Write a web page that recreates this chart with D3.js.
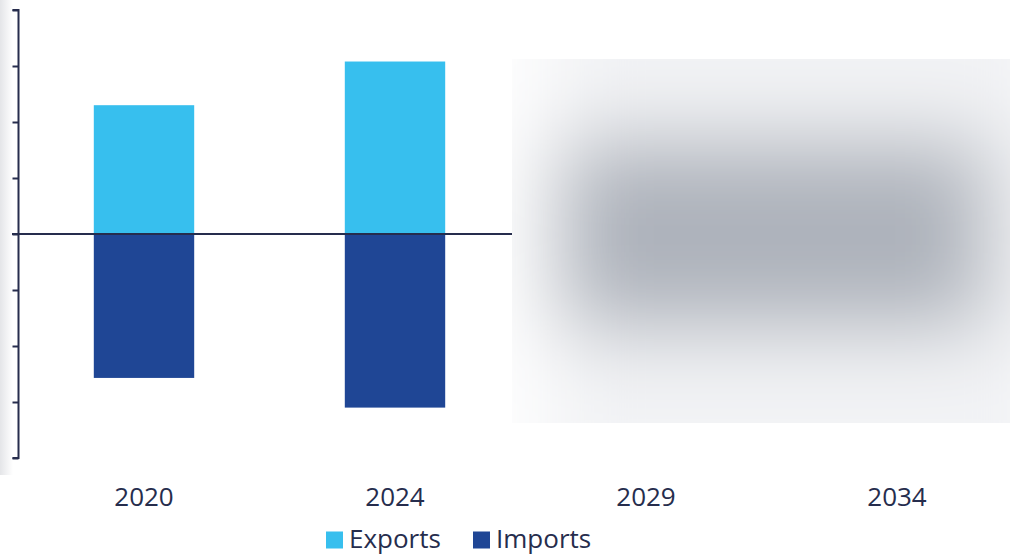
<!DOCTYPE html>
<html>
<head>
<meta charset="utf-8">
<script src="https://cdn.jsdelivr.net/npm/d3@7"></script>
<style>
  html, body { margin: 0; padding: 0; background: #fff; }
  svg { display: block; font-family: "Open Sans", "Noto Sans", sans-serif; }
</style>
</head>
<body>
<svg id="chart" width="1010" height="555"></svg>
<script>
// Chart data
const years = ["2020", "2024", "2029", "2034"];
const exportsVals = [2.3, 3.08, null, null];
const importsVals = [-2.57, -3.1, null, null];
const yTicks = [-4, -3, -2, -1, 0, 1, 2, 3, 4];
const legendLabels = ["Exports", "Imports"];

const colors = { Exports: "#37bfee", Imports: "#1f4695" };
const ink = "#262d4d";

const svg = d3.select("#chart");
const axisX = 18.5;

const x = d3.scaleBand().domain(years).range([axisX, 1022.5])
  .paddingInner(0.6).paddingOuter(0.3);
const y = d3.scaleLinear().domain([-4, 4]).range([458, 10]);

const defs = svg.append("defs");

// soft shade along the left edge
const lg = defs.append("linearGradient").attr("id", "edgeShade")
  .attr("x1", 0).attr("x2", 1).attr("y1", 0).attr("y2", 0);
lg.append("stop").attr("offset", "0%").attr("stop-color", "#e4e5e8");
lg.append("stop").attr("offset", "100%").attr("stop-color", "#ffffff");
svg.append("rect").attr("x", 0).attr("y", 0).attr("width", 13).attr("height", 475)
  .attr("fill", "url(#edgeShade)");

// blurred panel over the forecast years
defs.append("clipPath").attr("id", "forecastClip")
  .append("rect").attr("x", 512).attr("y", 59).attr("width", 498).attr("height", 364);
defs.append("filter").attr("id", "haze")
  .attr("x", "-40%").attr("y", "-40%").attr("width", "180%").attr("height", "180%")
  .append("feGaussianBlur").attr("stdDeviation", 42);

const hazeG = svg.append("g").attr("clip-path", "url(#forecastClip)");
const hz = hazeG.append("g").attr("filter", "url(#haze)");
hz.append("rect").attr("x", 545).attr("y", -40).attr("width", 520).attr("height", 560).attr("fill", "#f2f3f5");
hz.append("rect").attr("x", 560).attr("y", 140).attr("width", 430).attr("height", 190).attr("fill", "#adb2bb");

// bars
const g = svg.append("g");
years.forEach((yr, i) => {
  if (exportsVals[i] != null) {
    g.append("rect").attr("x", x(yr)).attr("width", x.bandwidth())
      .attr("y", y(exportsVals[i])).attr("height", y(0) - y(exportsVals[i]))
      .attr("fill", colors.Exports);
  }
  if (importsVals[i] != null) {
    g.append("rect").attr("x", x(yr)).attr("width", x.bandwidth())
      .attr("y", y(0)).attr("height", y(importsVals[i]) - y(0))
      .attr("fill", colors.Imports);
  }
});

// zero line
svg.append("line").attr("x1", 12).attr("x2", 512)
  .attr("y1", y(0)).attr("y2", y(0))
  .attr("stroke", ink).attr("stroke-width", 2);

// y axis without labels
const yAxis = d3.axisLeft(y).tickValues(yTicks).tickSize(6).tickFormat("");
const yg = svg.append("g").attr("transform", `translate(${axisX},0)`).call(yAxis);
yg.selectAll("path, line").attr("stroke", ink).attr("stroke-width", 2);
yg.select(".domain").attr("d", `M-6,${y(4)}H0V${y(-4)}H-6`);

// x axis labels
const xAxis = d3.axisBottom(x).tickSize(0).tickPadding(0);
const xg = svg.append("g").attr("transform", "translate(0,497)").call(xAxis);
xg.select(".domain").remove();
xg.selectAll("text").attr("fill", ink).attr("font-size", 26)
  .attr("font-family", "'Open Sans', 'Noto Sans', sans-serif")
  .attr("dy", "0.36em");

// legend
const legendPos = [326, 473];
legendLabels.forEach((lab, i) => {
  const lgItem = svg.append("g").attr("transform", `translate(${legendPos[i]},531)`);
  lgItem.append("rect").attr("y", 0.5).attr("width", 17).attr("height", 17).attr("fill", colors[lab]);
  lgItem.append("text").attr("x", 23).attr("y", 16.5)
    .attr("font-size", 26).attr("fill", ink).text(lab);
});
</script>
</body>
</html>
